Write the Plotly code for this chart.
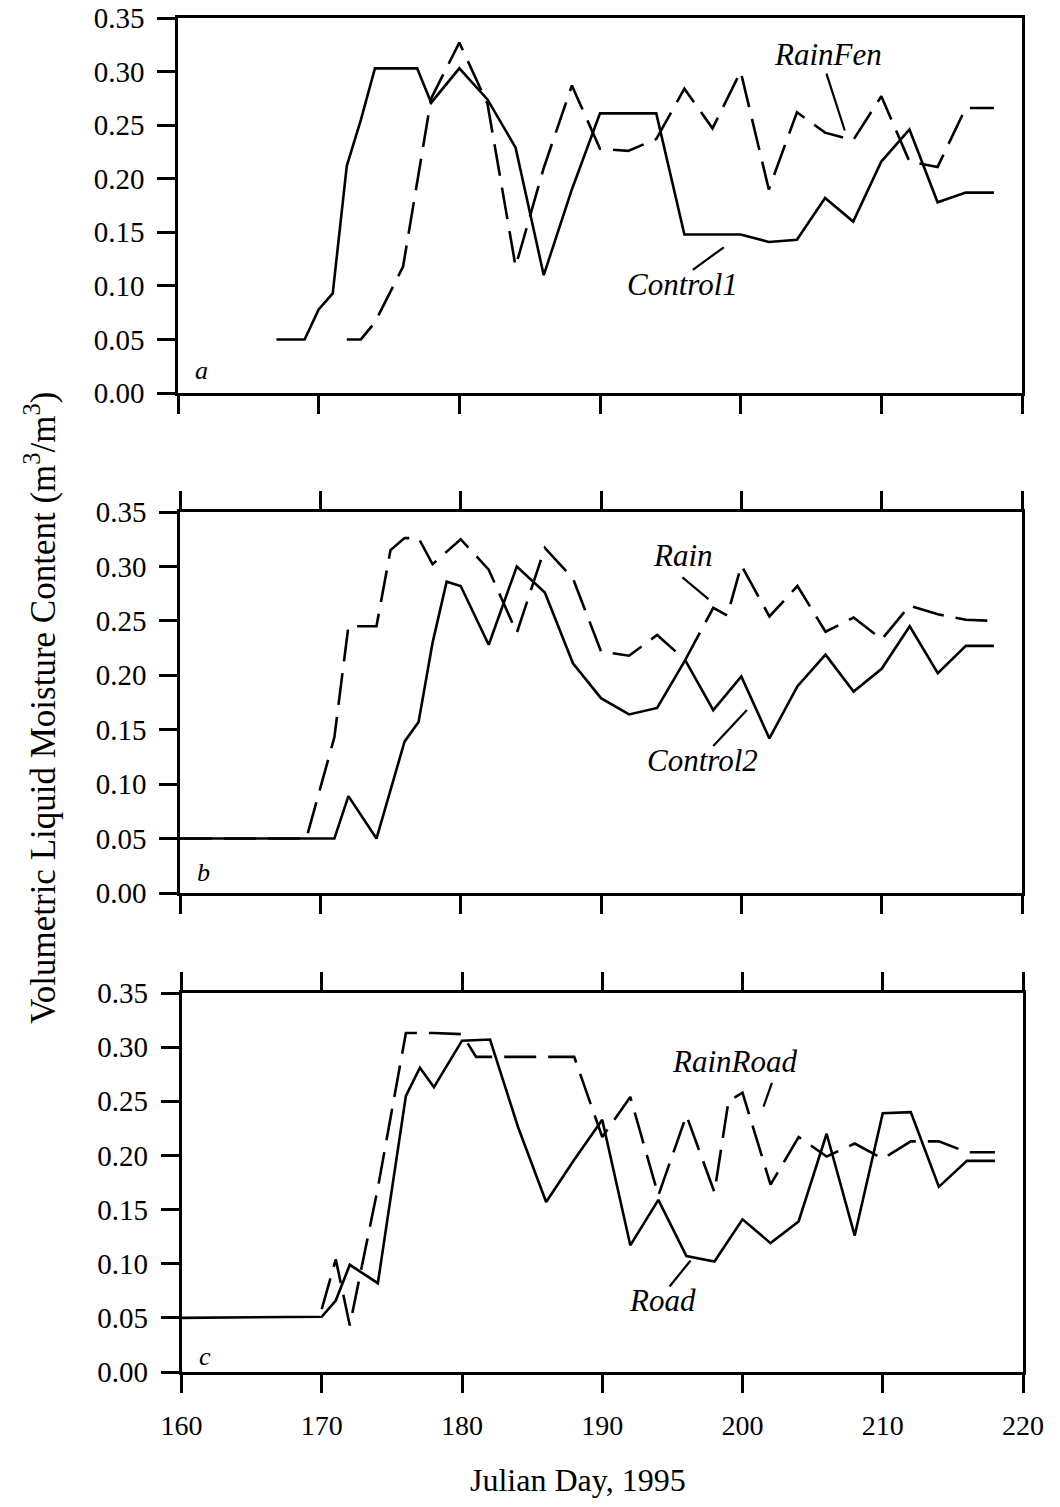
import plotly.graph_objects as go

# ---------------- data ----------------
# Panel a
control1_days = [167, 169, 170, 171, 172, 173, 174, 176, 177, 178, 180, 182, 184, 186, 188, 190, 192, 194,
                 196, 198, 200, 202, 204, 206, 208, 210, 212, 214, 216, 218]
control1_vals = [0.050, 0.050, 0.078, 0.093, 0.212, 0.255, 0.303, 0.303, 0.303, 0.271, 0.303, 0.274, 0.229,
                 0.110, 0.190, 0.261, 0.261, 0.261, 0.148, 0.148, 0.148, 0.141, 0.143, 0.182, 0.160, 0.216,
                 0.246, 0.178, 0.187, 0.187]
rainfen_days = [172, 173, 174, 176, 178, 180, 182, 184, 186, 188, 190, 192, 194, 196, 198, 200, 202, 204,
                206, 208, 210, 212, 214, 216, 218]
rainfen_vals = [0.050, 0.050, 0.066, 0.118, 0.275, 0.327, 0.270, 0.118, 0.210, 0.287, 0.228, 0.226, 0.237,
                0.284, 0.247, 0.300, 0.190, 0.262, 0.243, 0.236, 0.277, 0.216, 0.211, 0.266, 0.266]

# Panel b
control2_days = [160, 171, 172, 174, 176, 177, 178, 179, 180, 182, 184, 186, 188, 190, 192, 194, 196, 198,
                 200, 202, 204, 206, 208, 210, 212, 214, 216, 218]
control2_vals = [0.050, 0.050, 0.089, 0.050, 0.139, 0.157, 0.230, 0.286, 0.282, 0.228, 0.300, 0.276, 0.211,
                 0.179, 0.164, 0.170, 0.214, 0.168, 0.199, 0.142, 0.190, 0.219, 0.185, 0.206, 0.245, 0.202,
                 0.227, 0.227]
rain_days = [160, 169, 171, 172, 174, 175, 176, 177, 178, 180, 182, 184, 186, 188, 190, 192, 194, 196, 198,
             199, 200, 202, 204, 206, 208, 210, 212, 214, 216, 218]
rain_vals = [0.050, 0.050, 0.143, 0.245, 0.245, 0.315, 0.326, 0.326, 0.302, 0.325, 0.297, 0.239, 0.317,
             0.289, 0.222, 0.218, 0.237, 0.214, 0.262, 0.255, 0.301, 0.254, 0.282, 0.240, 0.253, 0.233,
             0.264, 0.256, 0.251, 0.250]

# Panel c
road_days = [160, 170, 171, 172, 174, 176, 177, 178, 180, 182, 184, 186, 188, 190, 192, 194, 196, 198, 200,
             202, 204, 206, 208, 210, 212, 214, 216, 218]
road_vals = [0.050, 0.051, 0.066, 0.099, 0.082, 0.255, 0.281, 0.263, 0.306, 0.307, 0.226, 0.157, 0.196,
             0.233, 0.117, 0.159, 0.107, 0.102, 0.141, 0.119, 0.139, 0.220, 0.126, 0.239, 0.240, 0.171,
             0.195, 0.195]
rainroad_days = [170, 171, 172, 174, 176, 178, 180, 181, 184, 188, 190, 192, 194, 196, 198, 199, 200, 202,
                 204, 206, 208, 210, 212, 214, 216, 218]
rainroad_vals = [0.058, 0.104, 0.043, 0.170, 0.313, 0.313, 0.312, 0.291, 0.291, 0.291, 0.217, 0.254, 0.163,
                 0.237, 0.166, 0.250, 0.258, 0.173, 0.217, 0.199, 0.211, 0.197, 0.213, 0.213, 0.203, 0.203]

x_ticks = [160, 170, 180, 190, 200, 210, 220]
y_ticks = [0.00, 0.05, 0.10, 0.15, 0.20, 0.25, 0.30, 0.35]

# ---------------- layout helpers ----------------
W, H = 1060, 1507
FONT = "Liberation Serif"


def fx(px):
    return px / W


def fy(py):
    return 1 - py / H


panels = [
    # (xaxis id, yaxis id, x px domain, y px domain (top, bottom), top ticks)
    ("x", "y", (178, 1022), (18, 393), False),
    ("x2", "y2", (180, 1022), (512, 893), True),
    ("x3", "y3", (181.5, 1023), (993, 1372), True),
]

fig = go.Figure()

DASH = "32px,12px"
series = [
    (control1_days, control1_vals, "solid", 0),
    (rainfen_days, rainfen_vals, DASH, 0),
    (control2_days, control2_vals, "solid", 1),
    (rain_days, rain_vals, DASH, 1),
    (road_days, road_vals, "solid", 2),
    (rainroad_days, rainroad_vals, DASH, 2),
]
for xs, ys, dash, p in series:
    xa, ya = panels[p][0], panels[p][1]
    fig.add_trace(go.Scatter(x=xs, y=ys, mode="lines", xaxis=xa, yaxis=ya,
                             line=dict(color="black", width=2.6, dash=dash),
                             showlegend=False, hoverinfo="skip"))

layout = dict(width=W, height=H, margin=dict(l=0, r=0, t=0, b=0),
              paper_bgcolor="white", plot_bgcolor="white", showlegend=False,
              font=dict(family=FONT, color="black", size=26))

for i, (xa, ya, (x0, x1), (yt, yb), toptick) in enumerate(panels):
    xkey = "xaxis" if xa == "x" else "xaxis" + xa[1:]
    ykey = "yaxis" if ya == "y" else "yaxis" + ya[1:]
    layout[xkey] = dict(domain=[fx(x0), fx(x1)], range=[160, 220], anchor=ya,
                        tickmode="array", tickvals=x_ticks, ticktext=[str(t) for t in x_ticks],
                        ticks="outside", ticklen=18, tickwidth=2.5, tickcolor="black",
                        showline=True, linewidth=2.5, linecolor="black",
                        mirror="ticks" if toptick else True,
                        showgrid=False, zeroline=False, automargin=False,
                        showticklabels=(i == 2), ticklabelstandoff=9,
                        tickfont=dict(family=FONT, size=28, color="black"))
    layout[ykey] = dict(domain=[fy(yb), fy(yt)], range=[0, 0.35], anchor=xa,
                        tickmode="array", tickvals=y_ticks, ticktext=["%.2f" % v for v in y_ticks],
                        ticks="outside", ticklen=18, tickwidth=2.5, tickcolor="black",
                        showline=True, linewidth=2.5, linecolor="black", mirror=True,
                        showgrid=False, zeroline=False, automargin=False,
                        ticklabelstandoff=7,
                        tickfont=dict(family=FONT, size=29, color="black"))

fig.update_layout(**layout)

# ---------------- labels ----------------
ann = []
lab_font = dict(family=FONT, size=31, color="black")
labels = [
    ("<i>RainFen</i>", 206.2, 0.316, "x", "y"),
    ("<i>Control1</i>", 195.9, 0.101, "x", "y"),
    ("<i>Rain</i>", 195.85, 0.310, "x2", "y2"),
    ("<i>Control2</i>", 197.2, 0.122, "x2", "y2"),
    ("<i>RainRoad</i>", 199.45, 0.287, "x3", "y3"),
    ("<i>Road</i>", 194.3, 0.066, "x3", "y3"),
]
for t, x, y, xr, yr in labels:
    ann.append(dict(text=t, x=x, y=y, xref=xr, yref=yr, showarrow=False, font=lab_font,
                    xanchor="center", yanchor="middle"))

for t, y, xr, yr in [("<i>a</i>", 0.021, "x", "y"), ("<i>b</i>", 0.019, "x2", "y2"),
                     ("<i>c</i>", 0.014, "x3", "y3")]:
    ann.append(dict(text=t, x=161.7, y=y, xref=xr, yref=yr, showarrow=False,
                    font=dict(family=FONT, size=26, color="black"), xanchor="center", yanchor="middle"))

ann.append(dict(text="Julian Day, 1995", x=fx(578), y=fy(1480), xref="paper", yref="paper",
                showarrow=False, font=dict(family=FONT, size=32, color="black"),
                xanchor="center", yanchor="middle"))
ann.append(dict(text="Volumetric Liquid Moisture Content (m<sup>3</sup>/m<sup>3</sup>)",
                x=fx(40), y=fy(708), xref="paper", yref="paper", textangle=-90,
                showarrow=False, font=dict(family=FONT, size=35, color="black"),
                xanchor="center", yanchor="middle"))
fig.update_layout(annotations=ann)

# leader lines
leaders = [
    (206.1, 0.298, 207.4, 0.245, "x", "y"),
    (196.6, 0.115, 198.8, 0.136, "x", "y"),
    (195.8, 0.290, 197.66, 0.270, "x2", "y2"),
    (198.0, 0.135, 200.4, 0.168, "x2", "y2"),
    (201.5, 0.245, 202.1, 0.267, "x3", "y3"),
    (194.8, 0.079, 196.3, 0.103, "x3", "y3"),
]
for x0, y0, x1, y1, xr, yr in leaders:
    fig.add_shape(type="line", x0=x0, y0=y0, x1=x1, y1=y1, xref=xr, yref=yr,
                  line=dict(color="black", width=2.2))

fig.write_html("out.html")
